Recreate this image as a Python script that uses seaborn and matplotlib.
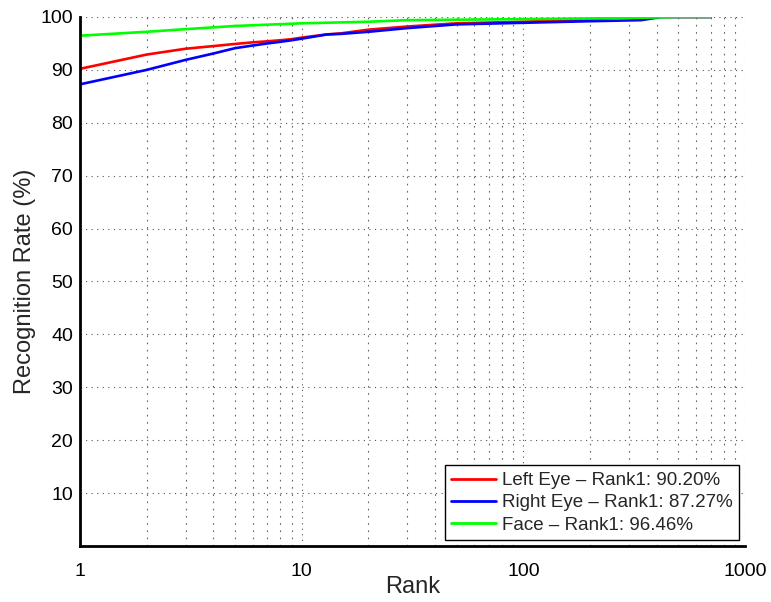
import numpy as np
import pandas as pd
import matplotlib
matplotlib.use("Agg")
import matplotlib.pyplot as plt
from matplotlib.ticker import LogLocator, NullFormatter, FixedLocator
import seaborn as sns

# CMC curves: recognition rate (%) versus rank
left_rank = [1, 2, 3, 4, 5, 6, 7, 8, 9, 10, 13, 15, 20, 30, 50, 100, 200, 300, 700]
left_rate = [90.20, 92.9, 94.0, 94.5, 94.9, 95.2, 95.4, 95.6, 95.8, 96.1, 96.7, 96.9, 97.6,
             98.2, 98.8, 99.1, 99.5, 100.0, 100.0]

right_rank = [1, 2, 3, 4, 5, 6, 7, 8, 9, 10, 13, 15, 20, 30, 50, 100, 200, 340, 420, 700]
right_rate = [87.27, 90.0, 91.9, 93.1, 94.1, 94.6, 95.0, 95.3, 95.6, 95.9, 96.7, 96.8, 97.2,
              97.9, 98.6, 98.9, 99.2, 99.4, 100.0, 100.0]

face_rank = [1, 2, 3, 5, 10, 20, 30, 100, 300, 500, 700]
face_rate = [96.46, 97.2, 97.7, 98.3, 98.8, 99.1, 99.4, 99.6, 99.8, 100.0, 100.0]

series_names = ["Left Eye \u2013 Rank1: 90.20%",
                "Right Eye \u2013 Rank1: 87.27%",
                "Face \u2013 Rank1: 96.46%"]
series_colors = ["#ff0000", "#0000ff", "#00ff00"]

y_ticks = [10, 20, 30, 40, 50, 60, 70, 80, 90, 100]
x_ticks = [1, 10, 100, 1000]
x_tick_labels = ["1", "10", "100", "1000"]

frames = []
for name, r, v in zip(series_names,
                      [left_rank, right_rank, face_rank],
                      [left_rate, right_rate, face_rate]):
    frames.append(pd.DataFrame({"Rank": r, "Rate": v, "Series": name}))
df = pd.concat(frames, ignore_index=True)

sns.set_style("white")
plt.rcParams["font.family"] = ["Liberation Sans", "DejaVu Sans"]

fig = plt.figure(figsize=(7.71, 6.02), dpi=100)
ax = fig.add_axes([0.1038, 0.093, 0.8625, 0.8788])

sns.lineplot(data=df, x="Rank", y="Rate", hue="Series", palette=series_colors,
             hue_order=series_names, linewidth=1.9, ax=ax, legend=True,
             estimator=None, sort=True)

ax.set_xscale("log")
ax.set_xlim(1, 1000)
ax.set_ylim(0, 100)
ax.xaxis.set_major_locator(FixedLocator(x_ticks))
ax.set_xticklabels(x_tick_labels)
ax.xaxis.set_minor_locator(LogLocator(base=10, subs=np.arange(2, 10)))
ax.xaxis.set_minor_formatter(NullFormatter())
ax.set_yticks(y_ticks)

ax.grid(True, which="major", axis="both", linestyle=(0, (1, 4)), color="#555555", linewidth=0.8)
ax.grid(True, which="minor", axis="x", linestyle=(0, (1.5, 5)), color="#666666", linewidth=0.8)

for side in ["top", "right"]:
    ax.spines[side].set_visible(False)
for side in ["left", "bottom"]:
    ax.spines[side].set_color("black")
    ax.spines[side].set_linewidth(2.0)

ax.tick_params(axis="both", which="major", direction="in", length=6, width=1.5,
               labelsize=14, colors="black", pad=5)
ax.tick_params(axis="x", which="minor", direction="in", length=3.5, width=1.2, colors="black")
ax.tick_params(axis="x", which="major", pad=12)

ax.set_xlabel("Rank", fontsize=17, labelpad=-3)
ax.set_ylabel("Recognition Rate (%)", fontsize=17, labelpad=3)

leg = ax.legend(loc="lower right", fontsize=13.5, frameon=True, fancybox=False,
                borderpad=0.35, handlelength=2.4, handletextpad=0.3, labelspacing=0.28,
                borderaxespad=0.3)
leg.get_frame().set_edgecolor("black")
leg.get_frame().set_linewidth(1.0)
leg.get_frame().set_alpha(1.0)
for h in leg.get_lines():
    h.set_linewidth(2.0)

fig.savefig("out.png", dpi=100)
